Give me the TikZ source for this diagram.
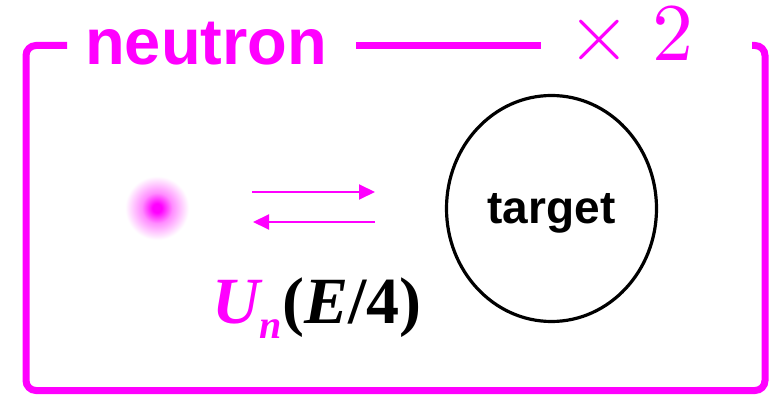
\documentclass[tikz,border=0pt]{standalone}
\usepackage{fontspec}
\newfontfamily\neutronsans{Liberation Sans}
\newfontfamily\neutronserif{Liberation Serif}
\newfontfamily\countfont{lmroman10-regular}[Extension=.otf]
\usetikzlibrary{shapes.geometric,arrows.meta}
\definecolor{nmagenta}{RGB}{255,0,255}
\pgfdeclareradialshading{neutronglow}{\pgfpoint{0bp}{0bp}}{%
  color(0bp)=(nmagenta); color(3bp)=(nmagenta); color(10bp)=(nmagenta!45);%
  color(21bp)=(white); color(50bp)=(white)}

\begin{document}
\begin{tikzpicture}[x=1pt,y=-1pt,
  frame/.style={draw=nmagenta,line width=7pt,rounded corners=10pt},
  flux/.style={color=nmagenta,line width=2pt,-{Triangle[length=16pt,width=15pt]}}]
\useasboundingbox (0,0) rectangle (773,395);
% open frame with the title in its gap
\draw[frame] (67,45.5) -- (26,45.5) -- (26,390.5) -- (765,390.5) -- (765,45.5) -- (752,45.5);
\draw[frame] (356,45.5) -- (541,45.5);
\node (title) [anchor=base west,inner sep=0pt,text=nmagenta] at (85,65) {\fontsize{65}{70}\selectfont\neutronsans\bfseries neutron};
\node (times) [anchor=base west,inner sep=0pt,text=nmagenta,text height=54pt,text depth=0pt] at (567,61) {\fontsize{82}{82}\selectfont\countfont ×\hspace{22pt}2};
% neutron and target
\shade[shading=neutronglow] (157,208) circle (38);
\node (target) [ellipse,draw,line width=3.2pt,minimum width=210pt,minimum height=226pt,text depth=0pt] at (551.5,208.5) {\fontsize{46}{50}\selectfont\neutronsans\bfseries target};
\coordinate (in0) at (252,192);
\coordinate (in1) at (375,192);
\coordinate (out0) at (375,222);
\coordinate (out1) at (253,222);
\path[flux] (in0) edge (in1)
            (out0) edge (out1);
\node (pot) [anchor=base west,inner sep=0pt] at (212,323) {\fontsize{66}{70}\selectfont\neutronserif\bfseries{\itshape\color{nmagenta}U\raisebox{-15pt}{\fontsize{40}{40}\selectfont n}}(\textit{E}/4)};
\end{tikzpicture}
\end{document}
